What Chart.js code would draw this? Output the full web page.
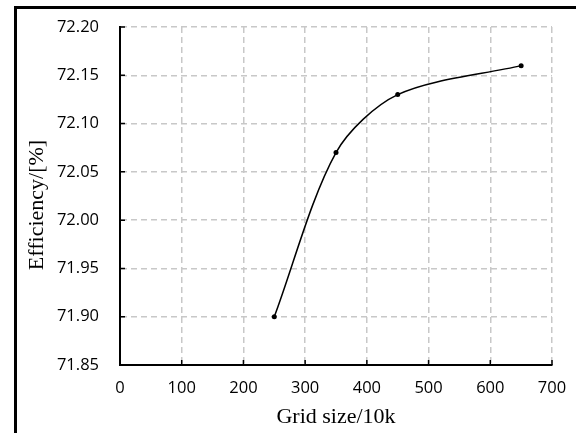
<!DOCTYPE html>
<html>
<head>
<meta charset="utf-8">
<script src="https://cdn.jsdelivr.net/npm/chart.js@4.4.1/dist/chart.umd.min.js"></script>
<style>
  html, body { margin: 0; padding: 0; background: #fff; }
  #wrap { position: relative; width: 576px; height: 433px; overflow: hidden; }
  #frame { position: absolute; left: 14px; top: 6px; width: 600px; height: 460px; border-left: 3px solid #000; border-top: 3px solid #000; }
  canvas { position: absolute; left: 0; top: 0; }
</style>
</head>
<body>
<div id="wrap">
  <div id="frame"></div>
  <canvas id="grafico" width="576" height="433"></canvas>
</div>
<script>
// dados
const gridSize = [250, 350, 450, 650]
const efficiency = [71.90, 72.07, 72.13, 72.16]
const xTicks = [0, 100, 200, 300, 400, 500, 600, 700]
const yTicks = [71.85, 71.90, 71.95, 72.00, 72.05, 72.10, 72.15, 72.20]
const yTitle = 'Efficiency/[%]'

// marcas de escala para dentro do gráfico + título do eixo Y
const extras = {
  id: 'extras',
  afterDraw(chart) {
    const { ctx, chartArea, scales } = chart
    ctx.save()
    ctx.strokeStyle = '#000'
    ctx.lineWidth = 1.5
    ctx.beginPath()
    scales.x.ticks.forEach((t, i) => {
      const px = scales.x.getPixelForTick(i)
      ctx.moveTo(px, chartArea.bottom)
      ctx.lineTo(px, chartArea.bottom - 5)
    })
    scales.y.ticks.forEach((t, i) => {
      const py = scales.y.getPixelForTick(i)
      ctx.moveTo(chartArea.left, py)
      ctx.lineTo(chartArea.left + 5, py)
    })
    ctx.stroke()

    // título Y um pouco abaixo do centro, como no original
    ctx.translate(37, 205)
    ctx.rotate(-Math.PI / 2)
    ctx.fillStyle = '#000'
    ctx.font = '22px "Liberation Serif"'
    ctx.textAlign = 'center'
    ctx.textBaseline = 'middle'
    ctx.fillText(yTitle, 0, 0)
    ctx.restore()
  },
}

const ctx = document.getElementById('grafico').getContext('2d')
new Chart(ctx, {
  type: 'line',
  data: {
    datasets: [
      {
        data: gridSize.map((x, i) => ({ x: x, y: efficiency[i] })),
        borderColor: '#000',
        borderWidth: 1.5,
        backgroundColor: '#000',
        pointRadius: 2.5,
        pointBackgroundColor: '#000',
        pointBorderWidth: 0,
        tension: 0.3,
        fill: false,
      },
    ],
  },
  options: {
    responsive: false,
    animation: false,
    layout: { padding: { left: 0, top: 27, right: 24, bottom: 0 } },
    plugins: { legend: { display: false }, tooltip: { enabled: false } },
    scales: {
      x: {
        type: 'linear',
        min: 0,
        max: 700,
        afterBuildTicks: (s) => { s.ticks = xTicks.map((v) => ({ value: v })) },
        afterFit: (s) => {
          s.height = 68
          s.paddingLeft = 0
          s.paddingRight = 0
        },
        grid: { color: '#c8c8c8', lineWidth: 1.5, drawTicks: false },
        border: { color: '#000', width: 2, dash: [6, 4] },
        ticks: { color: '#000', padding: 13, font: { family: 'Open Sans', size: 16.5 } },
        title: {
          display: true,
          text: 'Grid size/10k',
          color: '#000',
          font: { family: 'Liberation Serif', size: 22 },
          padding: { top: 0, bottom: 3 },
        },
      },
      y: {
        type: 'linear',
        min: 71.85,
        max: 72.2,
        afterBuildTicks: (s) => { s.ticks = yTicks.map((v) => ({ value: v })) },
        afterFit: (s) => {
          s.width = 120
          s.paddingTop = 0
          s.paddingBottom = 0
        },
        grid: { color: '#c8c8c8', lineWidth: 1.5, drawTicks: false },
        border: { color: '#000', width: 2, dash: [6, 4] },
        ticks: {
          color: '#000',
          padding: 21,
          font: { family: 'Open Sans', size: 16.5 },
          callback: (v) => v.toFixed(2),
        },
      },
    },
  },
  plugins: [extras],
})
</script>
</body>
</html>
